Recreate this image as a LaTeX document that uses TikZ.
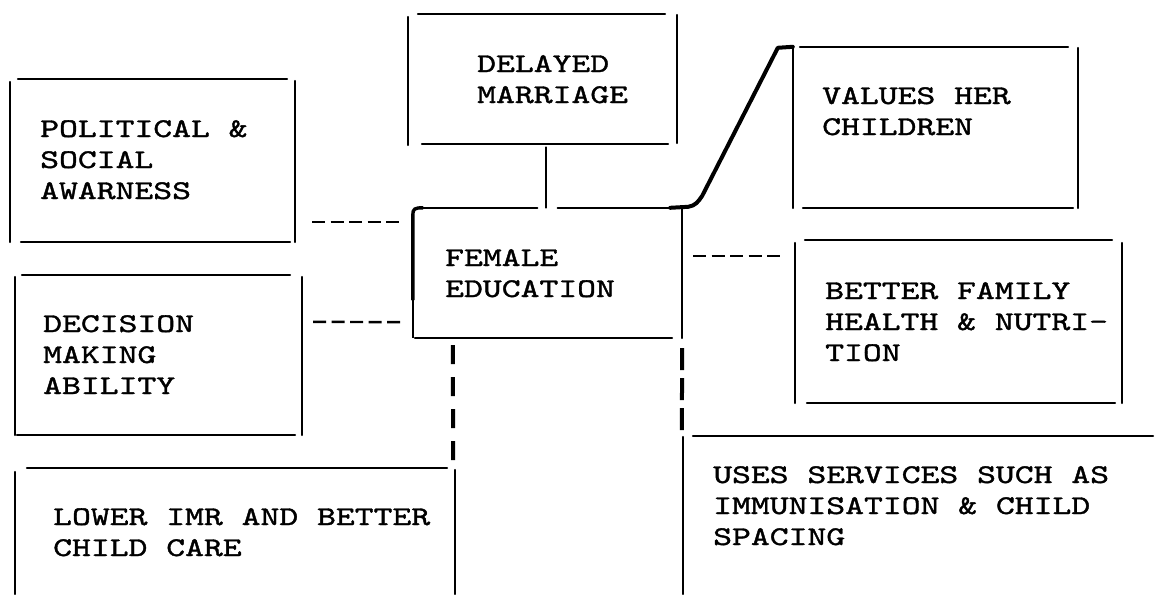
\documentclass[tikz,border=0pt]{standalone}
\usepackage{fontspec}
\newfontfamily\tw{lmmono10-regular.otf}[FakeStretch=1.33,FakeBold=1.4]
\usetikzlibrary{fit,calc}
\tikzset{
  side/.style={line width=1.7pt, line cap=round},
  heavy/.style={line width=4pt, line cap=round, line join=round},
  dsh/.style={line width=2.4pt, dash pattern=on 13pt off 5.5pt},
  dotc/.style={line width=4pt, dash pattern=on 19pt off 13pt},
  dotr/.style={line width=4pt, dash pattern=on 22pt off 8pt},
  lbl/.style={anchor=base west, inner sep=0pt, align=left, font=\tw\fontsize{27}{31}\selectfont},
  area/.style={inner sep=0pt, draw=none},
}
\begin{document}
\begin{tikzpicture}[x=1pt,y=-1pt]
\useasboundingbox (0,0) rectangle (1155,594);
% box areas
\path (10,79) coordinate (pol-a) (295,242) coordinate (pol-b);
\node[area, fit=(pol-a)(pol-b)] (pol) {};
\path (15,275) coordinate (dec-a) (302,435) coordinate (dec-b);
\node[area, fit=(dec-a)(dec-b)] (dec) {};
\path (15,468) coordinate (low-a) (455,594) coordinate (low-b);
\node[area, fit=(low-a)(low-b)] (low) {};
\path (408,14) coordinate (del-a) (677,144) coordinate (del-b);
\node[area, fit=(del-a)(del-b)] (del) {};
\path (413,208) coordinate (fem-a) (682,338) coordinate (fem-b);
\node[area, fit=(fem-a)(fem-b)] (fem) {};
\path (793,47) coordinate (val-a) (1078,208) coordinate (val-b);
\node[area, fit=(val-a)(val-b)] (val) {};
\path (795,240) coordinate (bet-a) (1122,403) coordinate (bet-b);
\node[area, fit=(bet-a)(bet-b)] (bet) {};
\path (683,436) coordinate (use-a) (1155,594) coordinate (use-b);
\node[area, fit=(use-a)(use-b)] (use) {};

% POLITICAL box sides
\draw[side] ($(pol.north west)+(8,0)$) -- ($(pol.north east)+(-8,0)$);
\draw[side] ($(pol.south west)+(11,0)$) -- ($(pol.south east)+(-5,0)$);
\draw[side] ($(pol.north west)+(0,3)$) -- (pol.south west);
\draw[side] ($(pol.north east)+(0,2)$) -- (pol.south east);
% DECISION box sides
\draw[side] ($(dec.north west)+(7,0)$) -- ($(dec.north east)+(-12,0)$);
\draw[side] ($(dec.south west)+(2,0)$) -- ($(dec.south east)+(-7,0)$);
\draw[side] ($(dec.north west)+(0,2)$) -- (dec.south west);
\draw[side] ($(dec.north east)+(0,2)$) -- (dec.south east);
% LOWER IMR box sides
\draw[side] ($(low.north west)+(12,0)$) -- ($(low.north east)+(-8,0)$);
\draw[side] ($(low.north west)+(0,4)$) -- (low.south west);
\draw[side] ($(low.north east)+(0,2)$) -- (low.south east);
% DELAYED box sides
\draw[side] ($(del.north west)+(10,0)$) -- ($(del.north east)+(-12,0)$);
\draw[side] ($(del.south west)+(14,0)$) -- ($(del.south east)+(-9,0)$);
\draw[side] ($(del.north west)+(0,3)$) -- ($(del.south west)+(0,1)$);
\draw[side] ($(del.north east)+(0,1)$) -- ($(del.south east)+(0,-1)$);
% VALUES box sides
\draw[side] ($(val.north west)+(7,0)$) -- ($(val.north east)+(-10,0)$);
\draw[side] ($(val.south west)+(10,0)$) -- ($(val.south east)+(-5,0)$);
\draw[side] ($(val.north west)+(0,1)$) -- (val.south west);
\draw[side] ($(val.north east)+(0,1)$) -- (val.south east);
% BETTER box sides
\draw[side] ($(bet.north west)+(10,0)$) -- ($(bet.north east)+(-10,0)$);
\draw[side] ($(bet.south west)+(12,0)$) -- ($(bet.south east)+(-7,0)$);
\draw[side] ($(bet.north west)+(0,3)$) -- (bet.south west);
\draw[side] ($(bet.north east)+(0,3)$) -- (bet.south east);
% USES box sides
\draw[side] ($(use.north west)+(10,0)$) -- ($(use.north east)+(-2,0)$);
\draw[side] ($(use.north west)+(0,1)$) -- (use.south west);
% FEMALE box sides
\draw[line width=3.4pt, line cap=round] ($(fem.north west)+(0,92)$) -- ($(fem.north west)+(0,7)$)
  .. controls ($(fem.north west)+(0,1)$) and ($(fem.north west)+(2,0)$) .. ($(fem.north west)+(10,0)$);
\draw[line width=2.4pt] ($(fem.north west)+(0,92)$) -- (fem.south west);
\draw[side] ($(fem.north west)+(10,0)$) -- ($(fem.north)+(-10,0)$);
\draw[side] ($(fem.north)+(10,0)$) -- ($(fem.north east)+(-10,0)$);
\draw[side] ($(fem.south west)+(2,0)$) -- ($(fem.south east)+(-10,0)$);
\draw[side] (fem.north east) -- (fem.south east);

% connectors
\draw[side] ([xshift=-1.5pt]fem.north) -- ([xshift=-1.5pt,yshift=-3pt]fem.north |- del.south);
\draw[heavy] ($(fem.north east)+(-12,0)$) -- ($(fem.north east)+(6,-1)$)
  .. controls ($(fem.north east)+(13,-2)$) and ($(fem.north east)+(16,-6)$) .. ($(fem.north east)+(20,-12)$)
  -- ($(val.north west)+(-15,1)$) -- (val.north west);
\draw[dsh] ($(pol.north east)+(17,143)$) -- ($(fem.north west)+(-13,14)$);
\draw[dsh] ($(dec.north east)+(11,47)$) -- ($(fem.south west)+(-10,-16)$);
\draw[dsh] ($(fem.north east)+(11,48)$) -- ($(bet.north west)+(-13,16)$);
\draw[dotc] ($(fem.south west)+(40,7)$) -- ($(low.north east)+(-2,-6)$);
\draw[dotr] ($(fem.south east)+(0,10)$) -- ($(use.north west)+(-1,-3)$);

% labels (anchored at the baseline of their last line)
\node[lbl] (delt) at (477,103) {DELAYED\\MARRIAGE};
\node[lbl] (valt) at (822,135) {VALUES HER\\CHILDREN};
\node[lbl] (polt) at (40,199) {POLITICAL \&\\SOCIAL\\AWARNESS};
\node[lbl] (femt) at (445,297) {FEMALE\\EDUCATION};
\node[lbl] (dect) at (43,394) {DECISION\\MAKING\\ABILITY};
\node[lbl] (bett) at (825,361) {BETTER FAMILY\\HEALTH \& NUTRI-\\TION};
\node[lbl] (lowt) at (53,556) {LOWER IMR AND BETTER\\CHILD CARE};
\node[lbl] (uset) at (713,545) {USES SERVICES SUCH AS\\IMMUNISATION \& CHILD\\SPACING};
\end{tikzpicture}
\end{document}
